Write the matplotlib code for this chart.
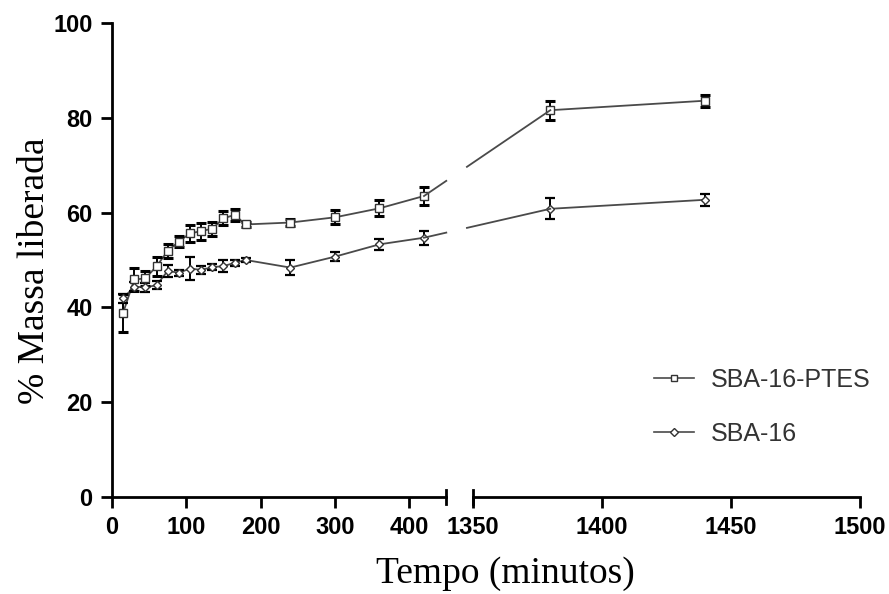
import matplotlib
matplotlib.use("Agg")
import matplotlib.pyplot as plt
from matplotlib.lines import Line2D
from matplotlib.transforms import IdentityTransform
import numpy as np

# tempo (min)
tempo = [15, 30, 45, 60, 75, 90, 105, 120, 135, 150, 165, 180, 240, 300, 360, 420, 1380, 1440]

# SBA-16-PTES
ptes = [38.9, 45.9, 46.1, 48.7, 51.9, 53.9, 55.6, 56.1, 56.6, 58.8, 59.5, 57.5,
        57.9, 59.0, 60.9, 63.5, 81.6, 83.6]
ptes_err = [4.0, 2.5, 1.5, 2.0, 1.5, 1.2, 1.8, 1.8, 1.5, 1.5, 1.2, 0.5,
            0.7, 1.5, 1.7, 1.8, 2.0, 1.3]

# SBA-16
sba = [41.9, 44.4, 44.2, 44.7, 47.7, 47.3, 48.2, 47.9, 48.5, 48.7, 49.4, 50.0,
       48.4, 50.7, 53.3, 54.7, 60.8, 62.7]
sba_err = [1.0, 1.0, 1.0, 0.8, 1.2, 0.6, 2.4, 0.8, 0.6, 1.2, 0.6, 0.4,
           1.5, 1.0, 1.2, 1.5, 2.2, 1.3]

left_ticks = [0, 100, 200, 300, 400]
right_ticks = [1350, 1400, 1450, 1500]
y_ticks = [0, 20, 40, 60, 80, 100]

LINE_C = "#4a4a4a"
tick_font = {"family": ["Liberation Sans Narrow", "Liberation Sans", "DejaVu Sans"],
             "weight": "bold", "size": 17}

t = np.array(tempo)
series = [
    (np.array(ptes), np.array(ptes_err), "s", 5.5, 2.2),
    (np.array(sba), np.array(sba_err), "D", 4.5, 1.6),
]

fig = plt.figure(figsize=(8.89, 5.94), dpi=100)
ax1 = fig.add_axes([0.126, 0.1633, 0.376, 0.798])
ax2 = fig.add_axes([0.532, 0.1633, 0.435, 0.798])


def draw(ax, mask):
    for y, e, mk, ms, ct in series:
        ax.plot(t[mask], y[mask], color=LINE_C, lw=1.3, zorder=2)
        ax.errorbar(t[mask], y[mask], yerr=e[mask], fmt="none", ecolor="black",
                    elinewidth=1.4, capsize=3.8, capthick=ct, zorder=3)
        ax.plot(t[mask], y[mask], ls="none", marker=mk, ms=ms, mfc="white",
                mec="#333333", mew=1.0, zorder=4)
    ax.set_ylim(0, 100)
    ax.spines["top"].set_visible(False)
    ax.spines["right"].set_visible(False)
    ax.spines["bottom"].set_linewidth(2)
    ax.tick_params(axis="x", direction="out", length=8, width=2, pad=6)


left = t <= 450
right = t >= 1350
draw(ax1, left)
draw(ax2, right)

ax1.set_xlim(0, 450)
ax1.set_xticks(left_ticks)
ax1.set_xticklabels([str(v) for v in left_ticks], fontdict=tick_font)
ax1.set_yticks(y_ticks)
ax1.set_yticklabels([str(v) for v in y_ticks], fontdict=tick_font)
ax1.spines["left"].set_linewidth(2)
ax1.tick_params(axis="y", direction="out", length=8, width=2, pad=6)

ax2.set_xlim(1350, 1500)
ax2.set_xticks(right_ticks)
ax2.set_xticklabels([str(v) for v in right_ticks], fontdict=tick_font)
ax2.spines["left"].set_visible(False)
ax2.set_yticks([])

# ligação entre os segmentos (reta em coordenadas de tela, com lacuna na quebra)
i_a = np.where(left)[0][-1]
i_b = np.where(right)[0][0]
x_cut1 = ax1.transAxes.transform((1, 0))[0]
x_cut2 = ax2.transAxes.transform((0, 0))[0] - 6
for y, e, mk, ms, ct in series:
    p0 = ax1.transData.transform((t[i_a], y[i_a]))
    p1 = ax2.transData.transform((t[i_b], y[i_b]))
    yc1 = np.interp(x_cut1, [p0[0], p1[0]], [p0[1], p1[1]])
    yc2 = np.interp(x_cut2, [p0[0], p1[0]], [p0[1], p1[1]])
    fig.add_artist(Line2D([p0[0], x_cut1], [p0[1], yc1], color=LINE_C, lw=1.3,
                          transform=IdentityTransform(), zorder=1))
    fig.add_artist(Line2D([x_cut2, p1[0]], [yc2, p1[1]], color=LINE_C, lw=1.3,
                          transform=IdentityTransform(), zorder=1))

# marcas da quebra do eixo
ax1.plot([1, 1], [-0.014, 0.014], transform=ax1.transAxes, color="black",
         lw=2, clip_on=False)
ax2.plot([0, 0], [-0.014, 0.014], transform=ax2.transAxes, color="black",
         lw=2, clip_on=False)

serif = ["Liberation Serif", "DejaVu Serif"]
fig.text(0.039, 0.545, "% Massa liberada", rotation=90, ha="center", va="center",
         family=serif, fontsize=27)
fig.text(0.568, 0.035, "Tempo (minutos)", ha="center", va="center",
         family=serif, fontsize=27)

# legenda
h1 = Line2D([], [], color=LINE_C, lw=1.2, marker="s", ms=5, mfc="white",
            mec="#333333", mew=1.0)
h2 = Line2D([], [], color=LINE_C, lw=1.2, marker="D", ms=4.2, mfc="white",
            mec="#333333", mew=1.0)
leg = fig.legend([h1, h2], ["SBA-16-PTES", "SBA-16"], loc="center left",
                 bbox_to_anchor=(0.71, 0.315), frameon=False, handlelength=1.6,
                 handletextpad=0.7, labelspacing=1.2,
                 prop={"family": ["Liberation Sans", "DejaVu Sans"], "size": 18})
for txt in leg.get_texts():
    txt.set_color("#333333")

fig.savefig("out.png", dpi=100)
